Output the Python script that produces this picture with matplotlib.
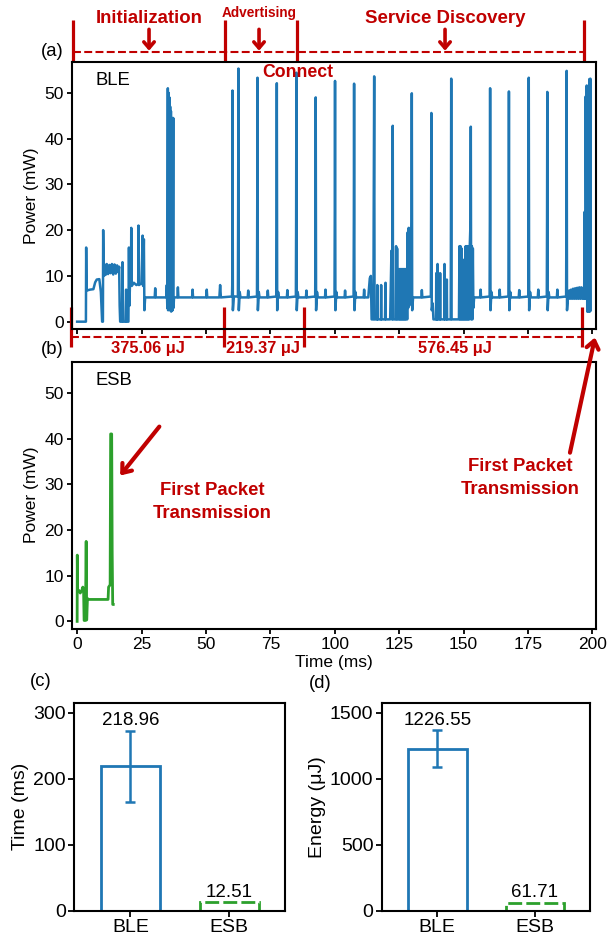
"""BLE vs ESB start-up power traces with time / energy bars."""

import matplotlib
matplotlib.use("Agg")
import matplotlib.pyplot as plt
from matplotlib.transforms import blended_transform_factory
import numpy as np

RED = "#c00000"
BLUE = "#1f77b4"
GREEN = "#2ca02c"

plt.rcParams.update({
    "font.family": ["Liberation Sans", "DejaVu Sans"],
    "font.size": 12.5,
    "axes.linewidth": 1.5,
    "xtick.major.width": 1.3,
    "ytick.major.width": 1.3,
    "xtick.major.size": 3.5,
    "ytick.major.size": 3.5,
    "xtick.direction": "out",
    "ytick.direction": "out",
})

# ---- data ------------------------------------------------------------------
# BLE power trace (ms, mW)
ble_trace = [
    (0.0, 0.0), (3.4, 0.0), (3.5, 16.2), (3.65, 6.8), (5.0, 7.0), (6.3, 7.1),
    (7.0, 8.6), (7.6, 9.2), (8.6, 9.3), (9.2, 6.5), (9.7, 0.0), (10.0, 0.0),
    (10.1, 20.0), (10.3, 10.0), (10.6, 12.5), (11.0, 10.2), (11.5, 12.6),
    (12.0, 10.4), (12.5, 12.4), (13.0, 10.6), (13.5, 12.6), (14.0, 10.3),
    (14.5, 12.5), (15.0, 10.5), (15.5, 12.3), (16.0, 10.8), (16.3, 12.0),
    (16.5, 3.5), (16.7, 0.0), (17.4, 0.0), (17.6, 13.0), (17.8, 0.0),
    (18.8, 0.0), (19.0, 7.0), (19.2, 0.0), (19.9, 0.0), (20.1, 16.2),
    (20.3, 3.5), (20.5, 8.2), (20.9, 8.0), (21.0, 20.5), (21.2, 7.8),
    (22.0, 8.5), (23.0, 8.0), (23.7, 8.3), (23.8, 21.0), (24.0, 8.0),
    (25.0, 8.4), (25.4, 18.8), (25.6, 7.8), (25.9, 18.0), (26.1, 2.5),
    (26.4, 5.3), (30.1, 5.3), (30.3, 7.3), (30.5, 5.3), (34.6, 5.3),
    (34.8, 8.0), (35.0, 3.0), (35.2, 51.0), (35.3, 2.5), (35.5, 50.0),
    (35.6, 3.0), (35.8, 49.0), (35.9, 2.5), (36.1, 47.0), (36.2, 3.0),
    (36.4, 46.0), (36.5, 2.2), (36.7, 42.0), (36.8, 3.0), (37.0, 44.5),
    (37.1, 2.5), (37.3, 44.5), (37.4, 3.0), (37.6, 5.3), (38.9, 5.3),
    (39.1, 7.5), (39.3, 5.3), (44.6, 5.3), (44.8, 7.0), (45.0, 5.3),
    (50.1, 5.3), (50.3, 7.0), (50.5, 5.3), (55.2, 5.3), (55.5, 8.0),
    (55.8, 5.3), (60.1, 5.5), (60.2, 8.0), (60.3, 50.5), (60.45, 2.5),
    (60.8, 5.5), (62.4, 5.5), (62.5, 24.5), (62.6, 55.3), (62.75, 2.5),
    (63.1, 6.5), (63.4, 5.3), (66.2, 5.3), (66.4, 6.8), (66.6, 5.3),
    (69.8, 5.5), (69.9, 24.5), (70.0, 53.3), (70.15, 2.5), (70.5, 6.5),
    (70.8, 5.3), (73.8, 5.3), (74.0, 6.8), (74.2, 5.3), (77.3, 5.5),
    (77.4, 21.5), (77.5, 52.1), (77.65, 2.5), (78.0, 6.5), (78.3, 5.3),
    (81.4, 5.3), (81.6, 6.9), (81.8, 5.3), (84.9, 5.5), (85.0, 22.0),
    (85.1, 54.4), (85.25, 2.5), (85.6, 6.5), (85.9, 5.3), (88.8, 5.3),
    (89.0, 6.8), (89.2, 5.3), (92.4, 5.5), (92.5, 19.7), (92.6, 49.0),
    (92.75, 2.5), (93.1, 6.5), (93.4, 5.3), (96.2, 5.3), (96.4, 7.0),
    (96.6, 5.3), (99.9, 5.5), (100.0, 23.8), (100.1, 52.6), (100.25, 2.5),
    (100.6, 6.5), (100.9, 5.3), (103.8, 5.3), (104.0, 6.8), (104.2, 5.3),
    (107.3, 5.5), (107.4, 22.0), (107.5, 52.0), (107.65, 2.5), (108.0, 6.5),
    (108.3, 5.3), (111.2, 5.3), (111.4, 7.0), (111.6, 5.3), (113.0, 5.3),
    (113.6, 9.5), (114.0, 10.0), (114.3, 0.5), (115.0, 0.5), (115.1, 22.0),
    (115.3, 53.6), (115.45, 0.5), (116.4, 0.5), (116.5, 8.0), (116.6, 0.5),
    (117.9, 0.5), (118.0, 8.0), (118.1, 0.5), (119.5, 0.5), (119.7, 8.5),
    (119.8, 0.5), (121.5, 0.5), (122.0, 15.5), (122.2, 0.5), (122.4, 20.0),
    (122.5, 42.8), (122.6, 0.5), (123.6, 0.5), (123.8, 16.5), (124.0, 0.5),
    (124.2, 16.0), (124.4, 0.5), (124.8, 0.5), (125.0, 11.5), (125.2, 0.5),
    (125.4, 11.5), (125.6, 0.5), (125.8, 11.5), (126.0, 0.5), (126.2, 11.5),
    (126.4, 0.5), (126.6, 11.5), (126.8, 0.5), (127.0, 11.5), (127.2, 0.5),
    (127.4, 11.5), (127.6, 0.5), (127.9, 11.5), (128.1, 0.5), (128.3, 19.5),
    (128.5, 3.0), (128.7, 20.5), (128.9, 3.5), (129.2, 19.0), (129.5, 6.0),
    (129.8, 22.0), (129.9, 49.9), (130.05, 2.5), (130.4, 5.3), (133.6, 5.3),
    (133.8, 6.9), (134.0, 5.3), (137.3, 5.5), (137.4, 22.0), (137.5, 45.6),
    (137.65, 2.5), (138.0, 4.0), (138.3, 0.5), (139.3, 0.5), (139.4, 10.6),
    (139.5, 0.5), (139.8, 0.5), (139.9, 12.6), (140.0, 0.5), (140.8, 0.5),
    (140.9, 10.6), (141.0, 0.5), (142.5, 0.5), (142.6, 12.6), (142.7, 0.5),
    (143.4, 0.5), (143.5, 9.2), (143.6, 0.5), (145.0, 0.5), (145.1, 22.0),
    (145.2, 53.1), (145.35, 0.5), (148.2, 0.5), (148.4, 16.5), (148.6, 0.5),
    (148.8, 16.5), (149.0, 0.5), (149.2, 16.0), (149.4, 0.5), (149.6, 13.5),
    (149.8, 0.5), (150.0, 13.5), (150.2, 0.5), (150.4, 13.0), (150.6, 0.5),
    (150.8, 16.5), (151.0, 0.5), (151.2, 16.5), (151.4, 0.5), (151.6, 16.5),
    (151.8, 0.5), (152.0, 16.0), (152.2, 0.5), (152.4, 16.5), (152.7, 22.0),
    (152.8, 42.6), (152.95, 0.5), (153.2, 16.5), (153.4, 0.5), (153.6, 16.0),
    (153.8, 3.0), (154.1, 5.3), (156.4, 5.3), (156.6, 7.0), (156.8, 5.3),
    (160.1, 5.5), (160.2, 22.0), (160.3, 51.0), (160.45, 2.5), (160.8, 6.5),
    (161.1, 5.3), (163.8, 5.3), (164.0, 7.0), (164.2, 5.3), (167.4, 5.5),
    (167.5, 22.0), (167.6, 50.3), (167.75, 2.5), (168.1, 6.5), (168.4, 5.3),
    (171.4, 5.3), (171.6, 6.9), (171.8, 5.3), (175.1, 5.5), (175.2, 22.0),
    (175.3, 53.3), (175.45, 2.5), (175.8, 6.5), (176.1, 5.3), (178.8, 5.3),
    (179.0, 7.0), (179.2, 5.3), (182.3, 5.5), (182.4, 22.0), (182.5, 50.2),
    (182.65, 2.5), (183.0, 6.5), (183.3, 5.3), (186.2, 5.3), (186.4, 7.0),
    (186.6, 5.3), (189.8, 5.5), (189.9, 22.0), (190.0, 54.8), (190.15, 2.5),
    (190.5, 5.3), (191.0, 6.8), (191.3, 5.0), (191.7, 7.0), (192.1, 5.0),
    (192.5, 7.2), (192.9, 5.0), (193.3, 7.3), (193.7, 5.0), (194.1, 7.4),
    (194.5, 5.0), (194.9, 7.5), (195.3, 5.0), (195.7, 7.5), (196.1, 5.0),
    (196.5, 7.4), (196.8, 5.0), (197.0, 24.0), (197.2, 5.0), (197.4, 49.2),
    (197.6, 22.0), (197.8, 51.6), (198.0, 2.2), (198.3, 45.6), (198.5, 2.2),
    (198.8, 53.0), (199.0, 2.2), (199.2, 53.1), (199.3, 2.5),
]

# ESB power trace (ms, mW)
esb_trace = [
    (0.0, 0.0), (0.05, 14.5), (0.2, 6.5), (0.6, 6.8), (1.2, 6.2), (1.8, 6.8),
    (2.2, 7.5), (2.5, 6.5), (2.7, 0.2), (3.2, 0.2), (3.5, 17.5), (3.7, 0.3),
    (4.0, 5.0), (4.5, 4.8), (8.0, 4.8), (12.0, 4.8), (12.2, 7.5), (12.8, 8.0),
    (13.0, 41.0), (13.4, 41.0), (13.6, 15.0), (13.8, 3.7), (14.0, 3.7),
]

# phase boundaries (ms) above and below the BLE trace
phase_marks_top = [-1.7, 57.4, 85.3, 196.9]
phase_names = ["Initialization", "Advertising", "Service Discovery"]
phase_name_x = [27.9, 70.6, 142.8]
energy_marks = [-2.4, 57.0, 88.1, 195.9]
energy_labels = ["375.06 μJ", "219.37 μJ", "576.45 μJ"]
energy_label_x = [27.6, 72.2, 146.7]

categories = ["BLE", "ESB"]
time_ms = [218.96, 12.51]
time_err = [54.0, 0.0]
energy_uj = [1226.55, 61.71]
energy_err = [140.0, 0.0]

ble_t, ble_p = np.array(ble_trace).T
esb_t, esb_p = np.array(esb_trace).T

# ---- figure -----------------------------------------------------------------
W, H = 608, 940
fig = plt.figure(figsize=(W / 100, H / 100), dpi=100)


def box(left, top, right, bottom):
    return [left / W, 1 - bottom / H, (right - left) / W, (bottom - top) / H]


ax_ble = fig.add_axes(box(72, 61.7, 596, 329))
ax_esb = fig.add_axes(box(72, 361.7, 596, 628.7))
ax_t = fig.add_axes(box(74, 703, 285, 910.7))
ax_e = fig.add_axes(box(381.7, 703, 590, 910.7))

ax_ble.plot(ble_t, ble_p, color=BLUE, lw=1.8)
ax_esb.plot(esb_t, esb_p, color=GREEN, lw=2.0)

for ax, name in ((ax_ble, "BLE"), (ax_esb, "ESB")):
    ax.set_xlim(-2, 201.4)
    ax.set_ylim(-1.6, 56.8)
    ax.set_xticks(np.arange(0, 201, 25))
    ax.set_yticks(np.arange(0, 51, 10))
    ax.set_ylabel("Power (mW)", fontsize=12.5, labelpad=4)
    ax.tick_params(labelsize=12.5, pad=2.5)
    ax.text(0.045, 0.93, name, transform=ax.transAxes, fontsize=13.3,
            ha="left", va="center")
ax_ble.tick_params(labelbottom=False)
ax_esb.set_xlabel("Time (ms)", fontsize=12.5, labelpad=2)

# phase annotations on top of the BLE trace
tr = blended_transform_factory(ax_ble.transData, ax_ble.transAxes)
bold = dict(color=RED, weight="bold", ha="center", va="center")
for t in phase_marks_top:
    ax_ble.plot([t, t], [1.0, 1.156], transform=tr, color=RED, lw=2.3,
                clip_on=False, solid_capstyle="butt")
ax_ble.plot([phase_marks_top[0], phase_marks_top[-1]], [1.037, 1.037],
            transform=tr, color=RED, lw=1.5, ls=(0, (3.8, 1.6)), clip_on=False)
for name, x in zip(phase_names, phase_name_x):
    small = name == "Advertising"
    ax_ble.text(x, 1.181 if small else 1.160, name, transform=tr,
                fontsize=9.8 if small else 13.4, **bold)
    ax_ble.annotate("", xy=(x, 1.041), xytext=(x, 1.121), xycoords=tr,
                    arrowprops=dict(arrowstyle="->,head_length=0.35,head_width=0.3",
                                    color=RED, lw=2.6, shrinkA=0, shrinkB=0))
ax_ble.text(phase_marks_top[2] + 0.5, 0.959, "Connect", transform=tr,
            fontsize=12.7, **bold)

# energy per phase below the BLE trace
for t in energy_marks:
    ax_ble.plot([t, t], [0.082, -0.067], transform=tr, color=RED, lw=2.3,
                clip_on=False, solid_capstyle="butt")
ax_ble.plot([energy_marks[0], energy_marks[-1]], [-0.031, -0.031],
            transform=tr, color=RED, lw=1.5, ls=(0, (3.8, 1.6)), clip_on=False)
for lab, x in zip(energy_labels, energy_label_x):
    ax_ble.text(x, -0.073, lab, transform=tr, fontsize=11.8, **bold)

# first packet arrows
arrow = dict(arrowstyle="->,head_length=0.45,head_width=0.35", color=RED,
             lw=3, shrinkA=0, shrinkB=0)
ax_esb.annotate("", xy=(16.7, 31.9), xytext=(31.9, 42.6), arrowprops=arrow)
ax_esb.text(52.5, 26.2, "First Packet\nTransmission", fontsize=13.3,
            linespacing=1.45, **bold)
ax_esb.annotate("", xy=(201.0, 62.1), xytext=(191.3, 36.9), arrowprops=arrow,
                annotation_clip=False)
ax_esb.text(171.9, 31.3, "First Packet\nTransmission", fontsize=13.3,
            linespacing=1.45, **bold)

# ---- bar charts ---------------------------------------------------------------
for ax, vals, errs, ylim, ticks, ylabel in (
    (ax_t, time_ms, time_err, 315, [0, 100, 200, 300], "Time (ms)"),
    (ax_e, energy_uj, energy_err, 1575, [0, 500, 1000, 1500], "Energy (μJ)"),
):
    ax.bar(0, vals[0], width=0.6, fill=False, edgecolor=BLUE, lw=2)
    ax.bar(1, vals[1], width=0.6, fill=False, edgecolor=GREEN, lw=2,
           ls=(0, (5, 1.5)))
    ax.errorbar(0, vals[0], yerr=errs[0], color=BLUE, lw=1.8, capsize=3.3,
                capthick=1.8)
    for i, (v, e) in enumerate(zip(vals, errs)):
        ax.annotate(f"{v:.2f}", xy=(i, v + e), xytext=(0, 1.2),
                    textcoords="offset points", ha="center", va="bottom",
                    fontsize=13.5)
    ax.set_xlim(-0.57, 1.565)
    ax.set_ylim(0, ylim)
    ax.set_xticks([0, 1], categories)
    ax.set_yticks(ticks)
    ax.tick_params(labelsize=14, length=4, pad=2)
    ax.set_ylabel(ylabel, fontsize=14, labelpad=3)

# panel letters
for lab, x, y in (("(a)", 52, 52), ("(b)", 52, 349), ("(c)", 41, 682),
                  ("(d)", 320, 684)):
    fig.text(x / W, 1 - y / H, lab, fontsize=13.3, ha="center", va="center")

fig.savefig("out.png", dpi=100, facecolor="white")
